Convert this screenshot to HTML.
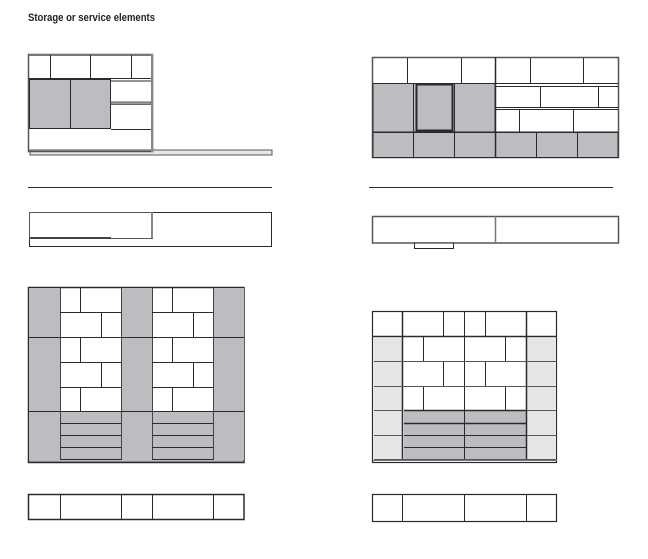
<!DOCTYPE html>
<html><head><meta charset="utf-8"><style>
html,body{margin:0;padding:0;background:#fff;width:648px;height:559px;overflow:hidden}
svg{display:block}
</style></head><body>
<svg width="648" height="559" viewBox="0 0 648 559" xmlns="http://www.w3.org/2000/svg">
<text x="28" y="21" font-family="'Liberation Sans Narrow','Liberation Sans',sans-serif" font-weight="bold" font-size="11" fill="#222" textLength="127" lengthAdjust="spacingAndGlyphs">Storage or service elements</text>
<g fill="none" stroke="#2a2a2a" stroke-width="1">
<!-- Diagram 1 -->
<rect x="30" y="150" width="242" height="5" fill="#e6e6e6" stroke="#555"/>
<rect x="28.5" y="54.5" width="124" height="97" stroke="#555" stroke-width="1.5"/>
<line x1="29" y1="55" x2="152" y2="55" stroke="#777" stroke-width="2"/>
<line x1="29" y1="78.5" x2="152" y2="78.5"/>
<line x1="50.5" y1="55" x2="50.5" y2="78"/>
<line x1="90.5" y1="55" x2="90.5" y2="78"/>
<line x1="131.5" y1="55" x2="131.5" y2="78"/>
<rect x="29.5" y="79.5" width="81" height="49" fill="#bcbdc0"/>
<line x1="70.5" y1="79" x2="70.5" y2="129"/>
<line x1="111" y1="81" x2="151" y2="81"/>
<rect x="111" y="102" width="40" height="2.5" fill="#999" stroke="#666"/>
<line x1="111" y1="129.5" x2="151" y2="129.5"/>
<line x1="152" y1="54" x2="152" y2="152" stroke="#888" stroke-width="2"/>
<line x1="28" y1="187.5" x2="272" y2="187.5"/>
<rect x="29.5" y="212.5" width="242" height="34"/>
<rect x="29.5" y="212.5" width="123" height="26" stroke="#555"/>
<line x1="152" y1="212" x2="152" y2="238" stroke="#888" stroke-width="2"/>
<rect x="30" y="237" width="81" height="2" fill="#444" stroke="none"/>
<!-- Diagram 2 -->
<rect x="372.5" y="57.5" width="246" height="100" stroke-width="1.5" stroke="#555"/>
<rect x="373" y="83.5" width="122" height="48.5" fill="#bcbdc0"/>
<rect x="373" y="132" width="245" height="25.5" fill="#bcbdc0"/>
<line x1="373" y1="83.5" x2="618" y2="83.5"/>
<line x1="407.5" y1="58" x2="407.5" y2="83"/>
<line x1="461.5" y1="58" x2="461.5" y2="83"/>
<line x1="530.5" y1="58" x2="530.5" y2="83"/>
<line x1="583.5" y1="58" x2="583.5" y2="83"/>
<line x1="413.5" y1="83" x2="413.5" y2="158"/>
<line x1="454.5" y1="83" x2="454.5" y2="158"/>
<rect x="416.5" y="84.5" width="36" height="46" stroke-width="2"/>
<line x1="495.5" y1="57" x2="495.5" y2="158" stroke-width="1.5"/>
<line x1="495" y1="86.5" x2="618" y2="86.5"/>
<line x1="495" y1="107.5" x2="618" y2="107.5"/>
<line x1="495" y1="109.5" x2="618" y2="109.5"/>
<line x1="540.5" y1="86" x2="540.5" y2="107"/>
<line x1="598.5" y1="86" x2="598.5" y2="107"/>
<line x1="519.5" y1="110" x2="519.5" y2="132"/>
<line x1="573.5" y1="110" x2="573.5" y2="132"/>
<line x1="373" y1="132.5" x2="618" y2="132.5"/>
<line x1="536.5" y1="132" x2="536.5" y2="158"/>
<line x1="577.5" y1="132" x2="577.5" y2="158"/>
<line x1="369" y1="187.5" x2="613" y2="187.5"/>
<rect x="372.5" y="216.5" width="246" height="26.5" stroke="#555" stroke-width="1.5"/>
<line x1="495.5" y1="216" x2="495.5" y2="243" stroke="#777" stroke-width="1.5"/>
<rect x="414.5" y="243" width="39" height="5.5" fill="#fff"/>
<!-- Diagram 3 -->
<rect x="28.5" y="287.5" width="215.5" height="175" stroke-width="1.5"/>
<line x1="29" y1="461" x2="244" y2="461" stroke="#777"/>
<rect x="29" y="288" width="31" height="172" fill="#bcbdc0" stroke="none"/>
<rect x="121" y="288" width="31" height="172" fill="#bcbdc0" stroke="none"/>
<rect x="213" y="288" width="31" height="172" fill="#bcbdc0" stroke="none"/>
<rect x="60" y="411" width="61" height="48" fill="#bcbdc0" stroke="none"/>
<rect x="152" y="411" width="61" height="48" fill="#bcbdc0" stroke="none"/>
<line x1="29" y1="337.5" x2="60" y2="337.5"/><line x1="121" y1="337.5" x2="152" y2="337.5"/><line x1="213" y1="337.5" x2="244" y2="337.5"/>
<line x1="29" y1="411.5" x2="244" y2="411.5"/>
<g stroke="#444">
<line x1="60.5" y1="288" x2="60.5" y2="460"/><line x1="121.5" y1="288" x2="121.5" y2="460"/>
<line x1="152.5" y1="288" x2="152.5" y2="460"/><line x1="213.5" y1="288" x2="213.5" y2="460"/>
</g>
<g id="sh">
<line x1="60" y1="312.5" x2="121" y2="312.5"/><line x1="60" y1="337.5" x2="121" y2="337.5"/>
<line x1="60" y1="362.5" x2="121" y2="362.5"/><line x1="60" y1="387.5" x2="121" y2="387.5"/>
<line x1="80.5" y1="288" x2="80.5" y2="312"/><line x1="101.5" y1="313" x2="101.5" y2="337"/>
<line x1="80.5" y1="338" x2="80.5" y2="362"/><line x1="101.5" y1="363" x2="101.5" y2="387"/>
<line x1="80.5" y1="388" x2="80.5" y2="411"/>
<line x1="60" y1="423.5" x2="121" y2="423.5"/><line x1="60" y1="435.5" x2="121" y2="435.5"/>
<line x1="60" y1="447.5" x2="121" y2="447.5"/><line x1="60" y1="459.5" x2="121" y2="459.5"/>
</g>
<use href="#sh" transform="translate(92,0)"/>
<rect x="28.5" y="494.5" width="215.5" height="25" stroke-width="1.5"/>
<line x1="60.5" y1="494" x2="60.5" y2="520"/><line x1="121.5" y1="494" x2="121.5" y2="520"/>
<line x1="152.5" y1="494" x2="152.5" y2="520"/><line x1="213.5" y1="494" x2="213.5" y2="520"/>
<!-- Diagram 4 -->
<rect x="372.5" y="311.5" width="184" height="151" stroke-width="1.2"/>
<line x1="373" y1="460.5" x2="557" y2="460.5" stroke="#777"/>
<rect x="374" y="338" width="28" height="121" fill="#e4e5e7" stroke="none"/>
<rect x="527" y="338" width="28" height="121" fill="#e4e5e7" stroke="none"/>
<rect x="404" y="410" width="122" height="49" fill="#bcbdc0" stroke="none"/>
<line x1="372" y1="336.5" x2="557" y2="336.5" stroke-width="1.5"/>
<line x1="402.5" y1="311" x2="402.5" y2="460" stroke-width="1.5"/>
<line x1="526.5" y1="311" x2="526.5" y2="460" stroke-width="1.5"/>
<line x1="464.5" y1="311" x2="464.5" y2="460"/>
<line x1="443.5" y1="312" x2="443.5" y2="336"/><line x1="485.5" y1="312" x2="485.5" y2="336"/>
<g stroke="#555">
<line x1="374" y1="361.5" x2="557" y2="361.5"/><line x1="374" y1="386.5" x2="557" y2="386.5"/>
<line x1="374" y1="410.5" x2="402" y2="410.5"/><line x1="527" y1="410.5" x2="557" y2="410.5"/>
<line x1="374" y1="435.5" x2="402" y2="435.5"/><line x1="527" y1="435.5" x2="557" y2="435.5"/>
<line x1="374" y1="459.5" x2="557" y2="459.5"/>
</g>
<line x1="404" y1="410.5" x2="526" y2="410.5" stroke-width="1.5"/>
<line x1="404" y1="423.5" x2="526" y2="423.5" stroke-width="1.5"/>
<line x1="404" y1="435.5" x2="526" y2="435.5"/>
<line x1="404" y1="447.5" x2="526" y2="447.5"/>
<line x1="423.5" y1="337" x2="423.5" y2="361"/><line x1="505.5" y1="337" x2="505.5" y2="361"/>
<line x1="443.5" y1="362" x2="443.5" y2="386"/><line x1="485.5" y1="362" x2="485.5" y2="386"/>
<line x1="423.5" y1="387" x2="423.5" y2="410"/><line x1="505.5" y1="387" x2="505.5" y2="410"/>
<rect x="372.5" y="494.5" width="184" height="27" stroke-width="1.2"/>
<line x1="402.5" y1="494" x2="402.5" y2="522"/><line x1="464.5" y1="494" x2="464.5" y2="522"/>
<line x1="526.5" y1="494" x2="526.5" y2="522"/>
</g>
</svg>
</body></html>
